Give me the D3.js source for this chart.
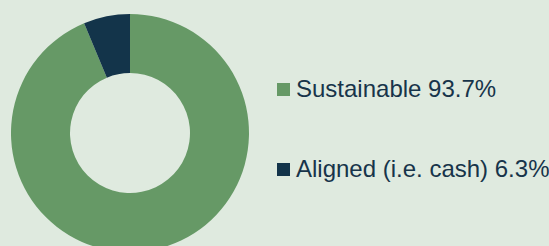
<!DOCTYPE html>
<html lang="en">
<head>
<meta charset="UTF-8">
<title>Allocation donut</title>
<script src="https://d3js.org/d3.v7.min.js"></script>
<style>
  html, body { margin: 0; padding: 0; background: #dfeadf; }
  svg { display: block; }
  .legend-label { font-family: "Liberation Sans", Arial, sans-serif; font-size: 24px; fill: #17344a; }
</style>
</head>
<body>
<svg id="chart" width="549" height="246"></svg>
<script>
  // chart data
  const categories = ["Sustainable", "Aligned (i.e. cash)"];
  const values = [93.7, 6.3];
  const colors = ["#669966", "#13344a"];

  const svg = d3.select("#chart");
  const cx = 130, cy = 133;
  const outerR = 119, innerR = 60;

  const pie = d3.pie().sort(null).value(d => d);
  const arc = d3.arc().innerRadius(innerR).outerRadius(outerR);

  const g = svg.append("g").attr("transform", `translate(${cx},${cy})`);
  g.selectAll("path")
    .data(pie(values))
    .enter().append("path")
    .attr("d", arc)
    .attr("fill", (d, i) => colors[i]);

  // legend
  const legendY = d3.scalePoint().domain(categories).range([90, 170]);
  const legend = svg.selectAll(".legend")
    .data(categories)
    .enter().append("g")
    .attr("class", "legend")
    .attr("transform", d => `translate(277,${legendY(d)})`);

  legend.append("rect")
    .attr("x", 0).attr("y", -7)
    .attr("width", 13).attr("height", 13)
    .attr("fill", (d, i) => colors[i]);

  legend.append("text")
    .attr("class", "legend-label")
    .attr("x", 19).attr("y", 7)
    .text((d, i) => `${d} ${values[i]}%`);
</script>
</body>
</html>
